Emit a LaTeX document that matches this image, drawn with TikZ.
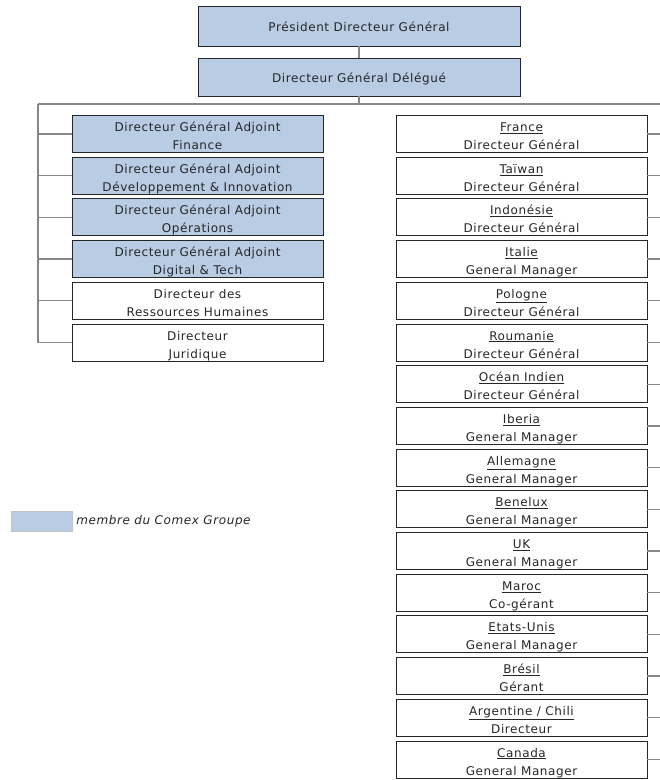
\documentclass[tikz,border=0pt]{standalone}
\usepackage{fontspec}
\setmainfont{DejaVu Sans}[LetterSpace=5]
\usetikzlibrary{positioning}
\definecolor{comex}{RGB}{184,204,228}
\definecolor{trait}{RGB}{135,135,135}

\begin{document}
\begin{tikzpicture}[x=1pt,y=-1pt,node distance=41.7pt,
    font=\fontsize{12}{18}\selectfont,
    base box/.style={draw=black!85,line width=0.9pt,minimum width=251pt,minimum height=37pt,
      align=center,inner sep=0pt,text=black!85,text height=34pt,text depth=3pt},
    comex box/.style={base box,fill=comex},
    top box/.style={comex box,minimum width=322pt,text height=10.5pt,text depth=0.5pt},
    branch/.style={draw=trait,line width=1.3pt}]

    \useasboundingbox (0,0) rectangle (660,780);

	\node[top box,minimum height=40pt] (pdg) at (359,26) {Président Directeur Général};
	\node[top box,minimum height=38pt] (dgd) at (359,77) {Directeur Général Délégué};

	\coordinate (lt) at (38,104);
	\coordinate (rt) at (660,104);

	% fonctions groupe
	\node[comex box] (dgaf) at (197.5,134) {Directeur Général Adjoint\\Finance};
	\node[comex box] (dgad) [below of=dgaf] {Directeur Général Adjoint\\Développement \& Innovation};
	\node[comex box] (dgao) [below of=dgad] {Directeur Général Adjoint\\Opérations};
	\node[comex box] (dgat) [below of=dgao] {Directeur Général Adjoint\\Digital \& Tech};
	\node[base box] (drh) [below of=dgat] {Directeur des\\Ressources Humaines};
	\node[base box] (djur) [below of=drh] {Directeur\\Juridique};

	% pays
	\node[base box] (fr) at (521.5,134) {\underline{France}\\Directeur Général};
	\node[base box] (tw) [below of=fr] {\underline{Taïwan}\\Directeur Général};
	\node[base box] (idn) [below of=tw] {\underline{Indonésie}\\Directeur Général};
	\node[base box] (it) [below of=idn] {\underline{Italie}\\General Manager};
	\node[base box] (pl) [below of=it] {\underline{Pologne}\\Directeur Général};
	\node[base box] (ro) [below of=pl] {\underline{Roumanie}\\Directeur Général};
	\node[base box] (oi) [below of=ro] {\underline{Océan Indien}\\Directeur Général};
	\node[base box] (ib) [below of=oi] {\underline{Iberia}\\General Manager};
	\node[base box] (de) [below of=ib] {\underline{Allemagne}\\General Manager};
	\node[base box] (bnl) [below of=de] {\underline{Benelux}\\General Manager};
	\node[base box] (uk) [below of=bnl] {\underline{UK}\\General Manager};
	\node[base box] (ma) [below of=uk] {\underline{Maroc}\\Co-gérant};
	\node[base box] (us) [below of=ma] {\underline{Etats-Unis}\\General Manager};
	\node[base box] (br) [below of=us] {\underline{Brésil}\\Gérant};
	\node[base box] (ar) [below of=br] {\underline{Argentine / Chili}\\Directeur};
	\node[base box] (ca) [below of=ar] {\underline{Canada}\\General Manager};

	% legende
	\node[draw=trait!50,fill=comex,minimum width=61pt,minimum height=20pt,inner sep=0pt] (leg) at (41.5,521) {};
	\node[right=4pt of leg,inner sep=0pt,font=\fontsize{12}{14}\selectfont\itshape,text=black!85] (legtxt) {membre du Comex Groupe};

	\path[branch]
	(pdg) edge (dgd)
	(dgd) edge (dgd |- lt)
	(lt) edge (rt)
	(lt) edge (lt |- djur.west)
	(dgaf.west) edge (dgaf.west -| lt)
	(dgad.west) edge (dgad.west -| lt)
	(dgao.west) edge (dgao.west -| lt)
	(dgat.west) edge (dgat.west -| lt)
	(drh.west) edge (drh.west -| lt)
	(djur.west) edge (djur.west -| lt)
	(fr.east) edge (fr.east -| rt)
	(tw.east) edge (tw.east -| rt)
	(idn.east) edge (idn.east -| rt)
	(it.east) edge (it.east -| rt)
	(pl.east) edge (pl.east -| rt)
	(ro.east) edge (ro.east -| rt)
	(oi.east) edge (oi.east -| rt)
	(ib.east) edge (ib.east -| rt)
	(de.east) edge (de.east -| rt)
	(bnl.east) edge (bnl.east -| rt)
	(uk.east) edge (uk.east -| rt)
	(ma.east) edge (ma.east -| rt)
	(us.east) edge (us.east -| rt)
	(br.east) edge (br.east -| rt)
	(ar.east) edge (ar.east -| rt)
	(ca.east) edge (ca.east -| rt);

\end{tikzpicture}
\end{document}
